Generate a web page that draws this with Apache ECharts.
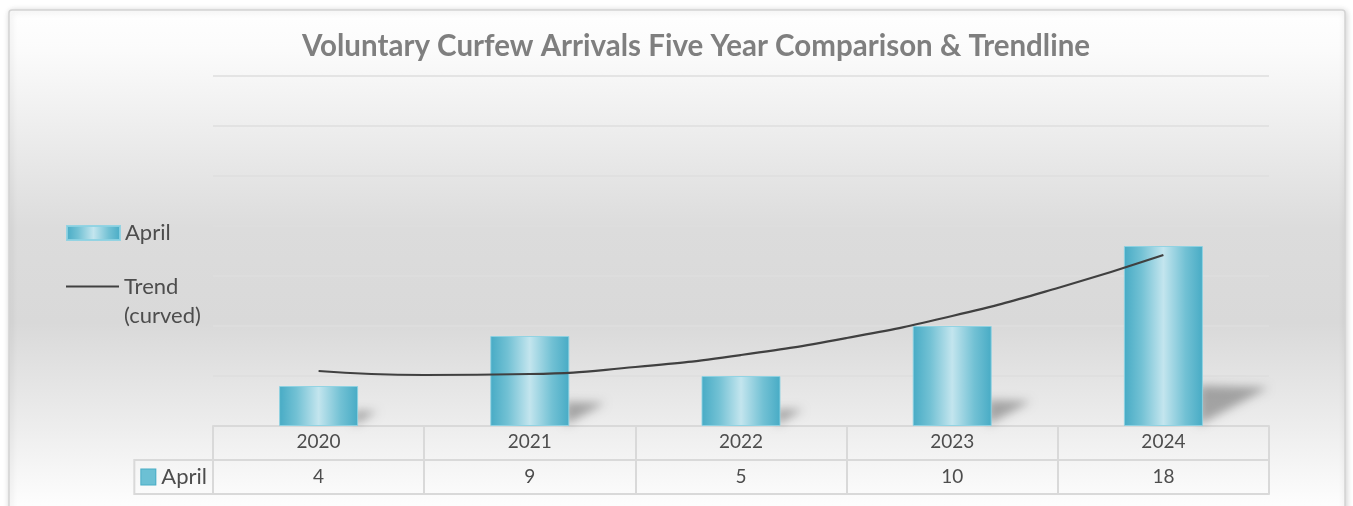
<!DOCTYPE html>
<html>
<head>
<meta charset="utf-8">
<script src="https://cdn.jsdelivr.net/npm/echarts@6/dist/echarts.min.js"></script>
<style>
html,body{margin:0;padding:0;background:#ffffff;}
#chart{width:1353px;height:506px;}
</style>
</head>
<body>
<div id="chart"></div>
<script>
// ---- data ----
var years = ['2020', '2021', '2022', '2023', '2024'];
var aprilValues = [4, 9, 5, 10, 18];
// curved (polynomial) trendline, values at every half year step
var trendX = [0, 0.5, 1, 1.5, 2, 2.5, 3, 3.5, 4];
var trendValues = [5.5, 5.1, 5.2, 5.9, 7.1, 8.8, 11.0, 13.8, 17.1];
var seriesName = 'April';
var trendName = 'Trend (curved)';
var titleText = 'Voluntary Curfew Arrivals Five Year Comparison & Trendline';
var tableRows = ['April', 'Year'];

var FONT = 'Lato';
var TXT = '#4d4d4d';
var LINE = '#d9d9d9';

var barGradient = new echarts.graphic.LinearGradient(0, 0, 1, 0, [
  {offset: 0, color: '#47abc5'},
  {offset: 0.22, color: '#72c1d4'},
  {offset: 0.5, color: '#c3e5ee'},
  {offset: 0.78, color: '#72c1d4'},
  {offset: 1, color: '#47abc5'}
]);

var chart = echarts.init(document.getElementById('chart'), null, {renderer: 'canvas'});

var option = {
  animation: false,
  graphic: [{
    type: 'rect', z: -100, silent: true,
    shape: {x: 9, y: 10, width: 1336, height: 520, r: 3},
    style: {
      fill: new echarts.graphic.LinearGradient(0, 0, 0, 1, [
        {offset: 0, color: '#ffffff'},
        {offset: 0.08, color: '#fbfbfb'},
        {offset: 0.42, color: '#dcdcdc'},
        {offset: 0.6, color: '#d9d9d9'},
        {offset: 0.8, color: '#ededed'},
        {offset: 0.95, color: '#fdfdfd'},
        {offset: 1, color: '#ffffff'}
      ]),
      stroke: '#d4d4d4', lineWidth: 1.5,
      shadowBlur: 6, shadowColor: 'rgba(0,0,0,0.18)', shadowOffsetX: 1, shadowOffsetY: 1
    }
  }],
  title: {
    text: titleText,
    left: 691, top: 26, textAlign: 'center',
    textStyle: {fontFamily: FONT, fontSize: 29.5, fontWeight: 'bold', color: '#7f7f7f'}
  },
  legend: [{
    data: [{name: seriesName, icon: 'rect'}],
    orient: 'vertical', left: 66, top: 222, padding: 0,
    itemWidth: 53, itemHeight: 14,
    textStyle: {fontFamily: FONT, fontSize: 22, color: TXT}
  }, {
    data: [{name: trendName, icon: 'rect'}],
    orient: 'vertical', left: 66, top: 243, padding: 0,
    itemWidth: 53, itemHeight: 2.2,
    itemStyle: {color: '#404040'},
    formatter: function (n) { return '\u00a0\n' + n.replace(' ', '\n'); },
    textStyle: {fontFamily: FONT, fontSize: 22, color: TXT, lineHeight: 29}
  }],
  grid: [
    {left: 213, right: 84, top: 76, bottom: 80},
    {left: 213, right: 84, top: 426, height: 68, show: false}
  ],
  xAxis: [{
    type: 'category', gridIndex: 0, data: years,
    axisLine: {show: false}, axisTick: {show: false}, axisLabel: {show: false}
  }, {
    type: 'category', gridIndex: 1, data: years, position: 'top',
    axisLine: {show: true, lineStyle: {color: LINE, width: 2}},
    axisTick: {show: false},
    splitLine: {show: true, lineStyle: {color: LINE, width: 2}},
    axisLabel: {inside: true, margin: 6, fontFamily: FONT, fontSize: 19, color: TXT}
  }, {
    type: 'category', gridIndex: 1, data: years, position: 'bottom',
    axisLine: {show: true, lineStyle: {color: LINE, width: 2}},
    axisTick: {show: false},
    axisLabel: {inside: true, margin: 8, fontFamily: FONT, fontSize: 19, color: TXT,
      formatter: function (v, i) { return String(aprilValues[i]); }}
  }, {
    type: 'value', gridIndex: 0, min: -0.5, max: 4.5, show: false
  }],
  yAxis: [{
    type: 'value', gridIndex: 0, min: 0, max: 35, interval: 5,
    axisLine: {show: false}, axisTick: {show: false}, axisLabel: {show: false},
    splitLine: {show: true, lineStyle: {color: '#dedede', width: 1.5}}
  }, {
    type: 'category', gridIndex: 1, data: tableRows,
    axisLine: {show: false}, axisTick: {show: false},
    splitLine: {show: true, lineStyle: {color: LINE, width: 2}},
    axisLabel: {
      margin: 0,
      formatter: function (v) { return v === seriesName ? '{i|}{t|' + v + '}' : ''; },
      rich: {
        i: {width: 14, height: 15, backgroundColor: '#6cc0d4', borderColor: '#49adc6', borderWidth: 1},
        t: {fontFamily: FONT, fontSize: 22, color: TXT, padding: [0, 0, 0, 6]}
      },
      padding: [6, 6, 6, 7],
      borderColor: LINE, borderWidth: 2
    }
  }],
  series: [{
    type: 'custom', name: 'shadow', xAxisIndex: 0, yAxisIndex: 0, z: 1, silent: true, clip: false,
    data: aprilValues.map(function (v, i) { return [i, v]; }),
    renderItem: function (params, api) {
      var base = api.coord([api.value(0), 0]);
      var top = api.coord([api.value(0), api.value(1)]);
      var bw = api.size([1, 0])[0] * 0.374;
      var xr = base[0] + bw / 2;
      var h = base[1] - top[1];
      var hs = 8 + 0.18 * h, ws = 6 + 0.33 * h;
      var off = 3000;
      return {
        type: 'polygon',
        shape: {points: [
          [xr - 4 + off, base[1] - 1],
          [xr - 4 + off, base[1] - hs],
          [xr + ws + off, base[1] - hs * 0.95]
        ]},
        style: {
          fill: '#000',
          shadowBlur: 10, shadowColor: 'rgba(0,0,0,0.3)', shadowOffsetX: -off, shadowOffsetY: 0
        }
      };
    }
  }, {
    type: 'bar', name: seriesName, xAxisIndex: 0, yAxisIndex: 0, z: 3,
    data: aprilValues, barWidth: '37.4%',
    itemStyle: {color: barGradient, borderColor: 'rgba(140,210,226,0.9)', borderWidth: 1}
  }, {
    type: 'line', name: trendName, xAxisIndex: 3, yAxisIndex: 0, z: 4,
    data: trendX.map(function (x, i) { return [x, trendValues[i]]; }),
    smooth: true, symbol: 'none',
    lineStyle: {color: '#404040', width: 2.2},
    itemStyle: {color: '#404040'}
  }]
};
chart.setOption(option);
</script>
</body>
</html>
